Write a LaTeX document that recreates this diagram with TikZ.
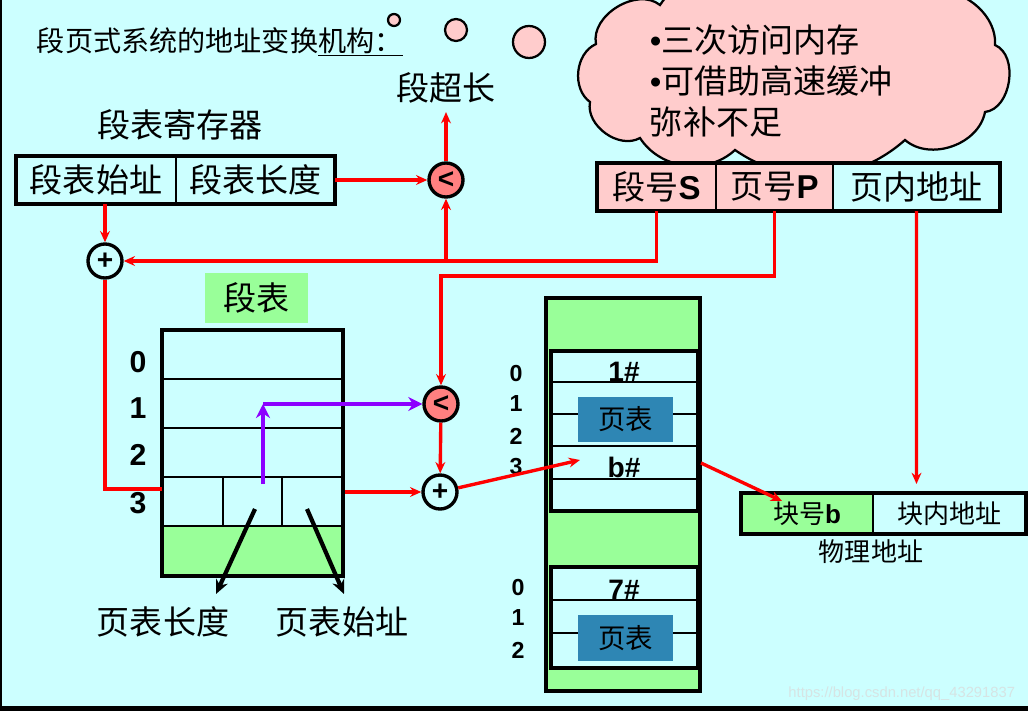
\documentclass[tikz,border=0pt]{standalone}
\usepackage{fontspec}
\setmainfont{Noto Sans CJK SC}
\newfontfamily\arial{Liberation Sans}
\usepackage{xcolor}
\usepackage{tikz}
\usetikzlibrary{arrows.meta}
\usetikzlibrary{positioning}
\newdimen\upx \upx=0.025cm
\definecolor{fundo}{HTML}{CCFFFF}
\definecolor{rosa}{HTML}{FFCCCC}
\definecolor{salmao}{HTML}{FF8080}
\definecolor{verde}{HTML}{99FF99}
\definecolor{azul}{RGB}{46,134,180}
\definecolor{roxo}{RGB}{140,0,255}
\definecolor{marca}{RGB}{214,228,228}
\newcommand{\fgrande}{\fontsize{23.5}{28}\selectfont}
\newcommand{\fmedia}{\fontsize{18.5}{22}\selectfont}
\newcommand{\fnum}{\arial\bfseries\fontsize{21.5}{22}\selectfont}
\newcommand{\fnumpeq}{\arial\bfseries\fontsize{16.5}{18}\selectfont}
\tikzset{
  caixa/.style={draw, line width=0.8pt, fill=#1, outer sep=0pt, inner sep=0pt, minimum height=48\upx, font=\fgrande},
  caixa/.default=fundo,
  borda/.style={draw=black, line width=2.6pt},
  fina/.style={draw=black, line width=0.8pt},
  linha/.style={red, line width=2.4pt},
  seta/.style={-{Stealth[length=8pt,width=7pt]}, red, line width=2.4pt},
  setaroxa/.style={-{Stealth[length=10pt,width=10pt]}, roxo, line width=3pt},
  setapreta/.style={-{Stealth[length=10pt,width=9pt]}, black, line width=3pt},
  comparador/.style={circle, draw, line width=2.4pt, fill=salmao, minimum size=34\upx, inner sep=0pt, font=\arial\bfseries\fontsize{20}{20}\selectfont},
  somador/.style={comparador, fill=fundo},
  bolha/.style={circle, draw, line width=1.6pt, fill=rosa, minimum size=#1, inner sep=0pt},
  nuvemst/.style={draw, line width=1.6pt, fill=rosa},
}

\begin{document}
\begin{tikzpicture}[x=0.025cm, y=-0.025cm]
  \useasboundingbox (0,0) rectangle (1028,711);
  \begin{scope}
  \clip (0,0) rectangle (1028,711);
  \fill[fundo] (0,0) rectangle (1028,711);

  % titulo e nuvem
  \node[anchor=west, font=\fontsize{20}{24}\selectfont] (titulo) at (32,42) {段页式系统的地址变换\underline{机构：}};
  \node[bolha=12\upx] (bolha1) at (394,20) {};
  \node[bolha=22\upx] (bolha2) at (456,30) {};
  \node[bolha=32\upx] (bolha3) at (529,42) {};
  \draw[nuvemst] (590,102) to[bend left=60] (596,44) to[bend left=70] (660,5)
    to[bend left=50] (790,-10) to[bend left=50] (920,-5) to[bend left=60] (995,45)
    to[bend left=75] (985,112) to[bend left=60] (905,140) to[bend left=38] (735,150)
    to[bend left=50] (640,138) to[bend left=65] (590,102) -- cycle;
  \node[anchor=west, align=left, font=\fontsize{23.5}{29}\selectfont] (dica) at (645,81) {{\arial•}三次访问内存\\{\arial•}可借助高速缓冲\\弥补不足};

  % registrador e endereco logico
  \node[font=\fgrande] (rotreg) at (180,125) {段表寄存器};
  \node[caixa, minimum width=160\upx] (sta) at (96,180) {段表始址};
  \node[caixa, minimum width=159\upx, right=0pt of sta] (stl) {段表长度};
  \draw[borda] (sta.north west) rectangle (stl.south east);

  \node[caixa=rosa, minimum width=119\upx] (segS) at (656.5,187) {段号{\arial\bfseries S}};
  \node[caixa=rosa, minimum width=117\upx, right=0pt of segS] (pagP) {页号{\arial\bfseries P}};
  \node[caixa, minimum width=167\upx, right=0pt of pagP] (desl) {页内地址};
  \draw[borda] (segS.north west) rectangle (desl.south east);

  \node[font=\fgrande, inner sep=6pt] (superou) at (446,88) {段超长};
  \node[comparador] (comp1) at (446,180) {<};
  \node[somador] (soma1) at (105,261) {+};
  \node[comparador] (comp2) at (441,404) {<};
  \node[somador] (soma2) at (440,492) {+};

  % tabela de segmentos
  \node[fill=verde, minimum width=103\upx, minimum height=50\upx, font=\fgrande] (rotseg) at (256.5,298) {段表};
  \fill[verde] (162,526) rectangle (343,576);
  \draw[fina] (162,379) -- (343,379);
  \draw[fina] (162,428) -- (343,428);
  \draw[fina] (162,477) -- (343,477);
  \draw[fina] (162,526) -- (343,526);
  \draw[fina] (223,477) -- (223,526);
  \draw[fina] (282,477) -- (282,526);
  \node[borda, minimum width=181\upx, minimum height=246\upx, inner sep=0pt] (tabela) at (252.5,453) {};
  \node[font=\fnum] (n0) at (138,362) {0};
  \node[font=\fnum] (n1) at (138,408) {1};
  \node[font=\fnum] (n2) at (138,455) {2};
  \node[font=\fnum] (n3) at (138,503) {3};

  % memoria
  \node[borda, fill=verde, minimum width=154\upx, minimum height=393\upx, inner sep=0pt] (memoria) at (623,494.5) {};
  \node[borda, fill=fundo, minimum width=147\upx, minimum height=160\upx, inner sep=0pt] (pt1) at (624.5,431) {};
  \draw[fina] (551,382) -- (698,382);
  \draw[fina] (551,414) -- (698,414);
  \draw[fina] (551,446) -- (698,446);
  \draw[fina] (551,479) -- (698,479);
  \node[borda, fill=fundo, minimum width=147\upx, minimum height=101\upx, inner sep=0pt] (pt2) at (624.5,617.5) {};
  \draw[fina] (551,600) -- (698,600);
  \draw[fina] (551,633) -- (698,633);
  \node[fill=azul, minimum width=95\upx, minimum height=45\upx, font=\fontsize{19.5}{22}\selectfont] (azul1) at (625.5,419.5) {页表};
  \node[fill=azul, minimum width=95\upx, minimum height=46\upx, font=\fontsize{19.5}{22}\selectfont] (azul2) at (625.5,638) {页表};
  \node[font=\arial\bfseries\fontsize{20}{20}\selectfont] (q1) at (624,372) {1\#};
  \node[font=\arial\bfseries\fontsize{20}{20}\selectfont] (qb) at (624,467) {b\#};
  \node[font=\arial\bfseries\fontsize{20}{20}\selectfont] (q7) at (624,590) {7\#};
  \node[font=\fnumpeq] (m0) at (516,374) {0};
  \node[font=\fnumpeq] (m1) at (516,404) {1};
  \node[font=\fnumpeq] (m2) at (516,436) {2};
  \node[font=\fnumpeq] (m3) at (516,467) {3};
  \node[font=\fnumpeq] (r0) at (518,588) {0};
  \node[font=\fnumpeq] (r1) at (518,618) {1};
  \node[font=\fnumpeq] (r2) at (518,650) {2};

  % endereco fisico
  \node[caixa=verde, minimum width=132\upx, minimum height=41\upx, font=\fmedia] (blocoB) at (807,513.5) {块号{\arial\bfseries b}};
  \node[caixa, minimum width=153\upx, minimum height=41\upx, font=\fmedia, right=0pt of blocoB] (blocoD) {块内地址};
  \draw[borda] (blocoB.north west) rectangle (blocoD.south east);
  \node[font=\fmedia] (fisico) at (871,552) {物理地址};

  % rotulos de baixo
  \node[font=\fgrande] (ptlen) at (163,622) {页表长度};
  \node[font=\fgrande] (ptini) at (342,622) {页表始址};

  % ligacoes
  \coordinate (j1) at (446,261);
  \coordinate (dobra) at (441,276);
  \coordinate (e3) at (162,489);
  \coordinate (alvo) at (580,460);
  \coordinate (saida) at (701,463);
  \coordinate (pontaB) at (782,501);
  \coordinate (pontaD) at (916.5,484);
  \coordinate (roxo0) at (263,484);
  \coordinate (roxo1) at (263,404);
  \coordinate (p1) at (255,509);
  \coordinate (p2) at (216,594);
  \coordinate (p3) at (307,509);
  \coordinate (p4) at (344,594);

  \draw[seta] (stl) -- (comp1);
  \draw[seta] (comp1) -- (superou.south);
  \draw[seta] (soma1 |- sta.south) -- (soma1);
  \draw[seta] (segS.south) |- (soma1);
  \draw[seta] (j1) -- (comp1);
  \draw[seta] (pagP.south) |- (dobra) -- (comp2);
  \draw[seta] (comp2) -- (soma2);
  \draw[linha] (soma1) |- (e3);
  \draw[seta] (tabela.east |- soma2) -- (soma2);
  \draw[seta] (soma2) -- (alvo);
  \draw[seta] (saida) -- (pontaB);
  \draw[seta] (desl.south) -- (pontaD);
  \draw[setaroxa] (roxo0) -- (roxo1);
  \draw[setaroxa] (roxo1) -- (comp2);
  \draw[setapreta] (p1) -- (p2);
  \draw[setapreta] (p3) -- (p4);

  \node[anchor=east, font=\arial\fontsize{10.5}{12}\selectfont, text=marca] (marcad) at (1020,694) {https://blog.csdn.net/qq\_43291837};

  % moldura
  \draw[line width=1.5pt] (1,0) -- (1,711);
  \fill (0,706) rectangle (1028,711);
  \end{scope}
\end{tikzpicture}
\end{document}
